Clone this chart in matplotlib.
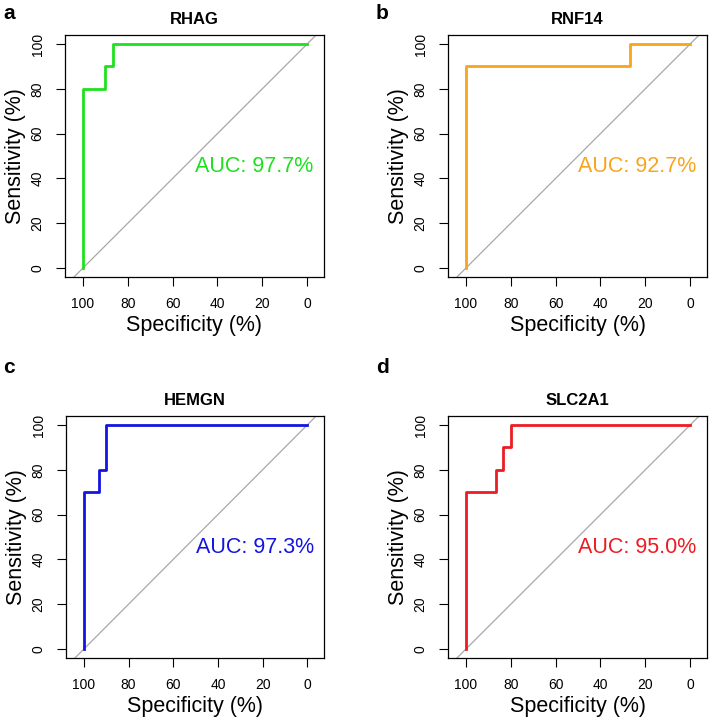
import matplotlib

matplotlib.use("Agg")
import matplotlib.pyplot as plt

plt.rcParams["font.family"] = ["Liberation Sans", "DejaVu Sans"]

GENES = ["RHAG", "RNF14", "HEMGN", "SLC2A1"]
PANEL_LABELS = ["a", "b", "c", "d"]
COLORS = ["#1EE01E", "#F7A51C", "#1414E0", "#EC1C24"]
AUC = [97.7, 92.7, 97.3, 95.0]

# ROC points as (specificity, sensitivity) in percent
SPEC = [
    [100, 100, 90, 90, 86.67, 86.67, 0],
    [100, 100, 26.67, 26.67, 0],
    [100, 100, 93.33, 93.33, 90, 90, 0],
    [100, 100, 86.67, 86.67, 83.33, 83.33, 80, 80, 0],
]
SENS = [
    [0, 80, 80, 90, 90, 100, 100],
    [0, 90, 90, 100, 100],
    [0, 70, 70, 80, 80, 100, 100],
    [0, 70, 70, 80, 80, 90, 90, 100, 100],
]
TICKS = [0, 20, 40, 60, 80, 100]

W, H = 709, 722
fig = plt.figure(figsize=(W / 100, H / 100), dpi=100)

# axes boxes in pixels: left, top, right, bottom
boxes = [
    (65, 35, 324, 277),
    (448, 35, 707, 277),
    (66, 416, 324, 658),
    (448, 416, 707, 658),
]
label_pos = [(3, 19), (376, 19), (3, 373), (376, 373)]

for i, gene in enumerate(GENES):
    l, t, r, b = boxes[i]
    ax = fig.add_axes([l / W, 1 - b / H, (r - l) / W, (b - t) / H])
    ax.axline((100, 0), (0, 100), color="#A8A8A8", linewidth=0.9, zorder=1)
    ax.plot(SPEC[i], SENS[i], color=COLORS[i], linewidth=2.0, zorder=2)
    ax.text(50, 50, f"AUC: {AUC[i]:.1f}%", color=COLORS[i], fontsize=15.5,
            ha="left", va="top")
    ax.set_xlim(108, -7.5)
    ax.set_ylim(-4, 104)
    ax.set_xticks(TICKS[::-1])
    ax.set_yticks(TICKS)
    ax.tick_params(direction="out", length=6.2, width=0.8, labelsize=10, pad=8.5)
    for lab in ax.get_yticklabels():
        lab.set_rotation(90)
        lab.set_va("center")
    ax.set_xlabel("Specificity (%)", fontsize=15.5, labelpad=2.5)
    ax.set_ylabel("Sensitivity (%)", fontsize=15.5, labelpad=3)
    ax.set_title(gene, fontsize=12, fontweight="bold", pad=8)
    for spine in ax.spines.values():
        spine.set_linewidth(0.9)
    lx, ly = label_pos[i]
    fig.text(lx / W, 1 - ly / H, PANEL_LABELS[i], fontsize=15,
             fontweight="bold", ha="left", va="baseline")

fig.savefig("out.png", dpi=100)
